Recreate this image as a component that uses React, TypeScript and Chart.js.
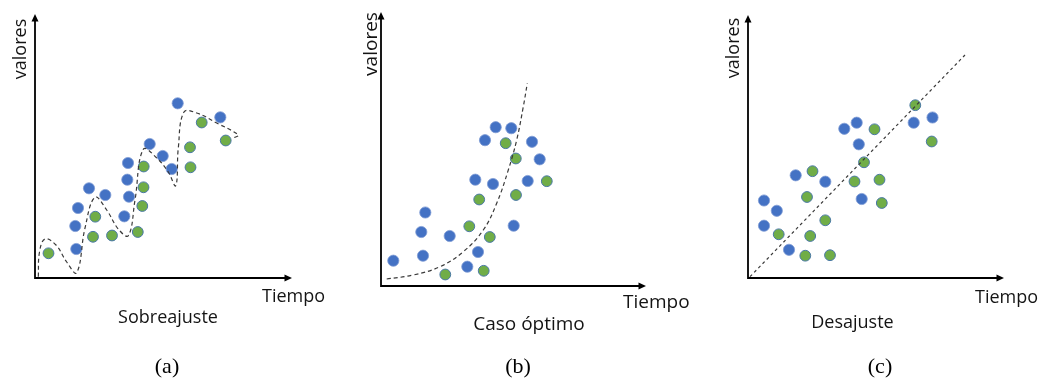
import React, { useEffect, useRef } from "react";
import { Chart, registerables } from "chart.js";

Chart.register(...registerables);

// ---------- DATA (units = distance from the axes' origin) ----------
// (a) Sobreajuste
const overfitBlue: [number, number][] = [
  [142.7, 174.7], [185.3, 160.7], [114.7, 134], [127.7, 122], [136.7, 109],
  [93, 115], [92.3, 98.3], [94, 81.3], [89.3, 61.7], [54, 89.7],
  [70.3, 83], [43, 70], [40.3, 52], [41.3, 29],
];
const overfitGreen: [number, number][] = [
  [166.7, 155.5], [190.7, 137.5], [155, 130.7], [155.5, 110.7], [108.7, 111.5],
  [108.5, 90.7], [107.3, 72], [102.8, 46], [60.3, 61.3], [58, 41.2],
  [77, 42.5], [13.5, 24.7],
];
const overfitCurve: [number, number][] = [
  [3.3, 1.3], [4.5, 26], [10, 39], [21, 33], [31.7, 16], [41.7, 5.3],
  [50, 50], [60, 80.7], [71.7, 68], [83.3, 49], [93.3, 42.3],
  [100, 78], [108.3, 128.7], [121.7, 120], [133.3, 106], [140.7, 92.3],
  [143.3, 130], [149, 166], [161.7, 165], [181.7, 155], [203.3, 143], [199, 140.3],
];

// (b) Caso óptimo
const optimalBlue: [number, number][] = [
  [12.3, 25.3], [42, 30.3], [40.3, 54], [44.3, 73.5], [68.7, 50],
  [86.3, 19.3], [97, 34], [94.3, 106.3], [112, 102], [104, 145.8],
  [114.7, 158.8], [130.3, 157.8], [151, 144.2], [158.7, 126.7], [146.7, 105], [132.7, 60.3],
];
const optimalGreen: [number, number][] = [
  [64.3, 11.5], [102.7, 15.2], [88.3, 59.7], [108.8, 49], [98.2, 86.5],
  [135, 91], [134.8, 127.5], [124.7, 142.8], [165.8, 104.8],
];
const optimalCurve: [number, number][] = [
  [5.7, 7], [32.3, 11], [59, 19.3], [82.3, 34.3], [102.3, 56],
  [115.7, 82.7], [127.3, 116], [135.7, 146], [142.3, 179.3], [146.3, 202.7],
];

// (c) Desajuste
const underfitBlue: [number, number][] = [
  [16, 77.5], [28.8, 67.2], [16, 52.3], [41, 28.2], [47.7, 102.7],
  [77.3, 96.3], [96.3, 149.2], [108.7, 155.3], [110.8, 133.7], [113.7, 79],
  [165.7, 155.3], [184.5, 160.5],
];
const underfitGreen: [number, number][] = [
  [30.7, 43.7], [57.3, 22.3], [82, 22.8], [62.2, 42], [77.3, 57.7],
  [59, 81], [64.5, 106.8], [106.5, 96.5], [116, 115.7], [131.5, 98.3],
  [133.8, 75], [126.5, 148.7], [167.3, 172.8], [183.7, 136.5],
];
const underfitLine: [number, number][] = [[2, 1.3], [217, 223]];

// ---------- LAYOUT & STYLE ----------
const W = 1040;
const H = 383;
const SANS = '"Open Sans", "Liberation Sans", sans-serif';
const SERIF = '"Liberation Serif", "DejaVu Serif", serif';
const BLUE = "#4472C4";
const BLUE_EDGE = "#7E9BD4";
const GREEN = "#70AD47";
const GREEN_EDGE = "#4A78A6";
const TEXT = "#141414";

type Panel = {
  left: number; width: number;
  ox: number; oy: number; top: number; tip: number;
  blue: [number, number][]; green: [number, number][]; curve: [number, number][];
  dash: number[]; tension: number;
  fontSize: number;
  valores: { x: number; y: number };
  tiempo: { x: number; y: number };
  caption: { text: string; x: number; y: number };
  tag: { text: string; x: number; y: number };
};

const panels: Panel[] = [
  {
    left: 0, width: 347, ox: 35, oy: 278, top: 14, tip: 292,
    blue: overfitBlue, green: overfitGreen, curve: overfitCurve, dash: [4, 3], tension: 0.4,
    fontSize: 18,
    valores: { x: 25.5, y: 49 }, tiempo: { x: 262, y: 302 },
    caption: { text: "Sobreajuste", x: 168, y: 323 }, tag: { text: "(a)", x: 167, y: 373 },
  },
  {
    left: 347, width: 353, ox: 381, oy: 286, top: 12, tip: 646,
    blue: optimalBlue, green: optimalGreen, curve: optimalCurve, dash: [4, 3], tension: 0.4,
    fontSize: 19,
    valores: { x: 377, y: 44 }, tiempo: { x: 623, y: 308 },
    caption: { text: "Caso óptimo", x: 529, y: 330 }, tag: { text: "(b)", x: 518, y: 373 },
  },
  {
    left: 700, width: 340, ox: 748, oy: 278, top: 15, tip: 1004,
    blue: underfitBlue, green: underfitGreen, curve: underfitLine, dash: [3, 3], tension: 0,
    fontSize: 18,
    valores: { x: 738.5, y: 48 }, tiempo: { x: 975, y: 303 },
    caption: { text: "Desajuste", x: 852.5, y: 328 }, tag: { text: "(c)", x: 880, y: 373 },
  },
];

const toPts = (arr: [number, number][]) => arr.map(([x, y]) => ({ x, y }));

function PanelChart({ p }: { p: Panel }) {
  const ref = useRef<HTMLCanvasElement | null>(null);
  useEffect(() => {
    const canvas = ref.current;
    if (!canvas) return;
    const xMax = p.tip - p.ox;
    const yMax = p.oy - p.top;
    const decor = {
      id: "decor",
      afterDraw(chart: any) {
        const ctx = chart.ctx as CanvasRenderingContext2D;
        const sx = chart.scales.x;
        const sy = chart.scales.y;
        const x0 = sx.getPixelForValue(0);
        const y0 = sy.getPixelForValue(0);
        const x1 = sx.getPixelForValue(xMax);
        const y1 = sy.getPixelForValue(yMax);
        ctx.save();
        ctx.strokeStyle = "#000";
        ctx.fillStyle = "#000";
        ctx.lineWidth = 1.8;
        ctx.lineCap = "butt";
        ctx.beginPath();
        ctx.moveTo(x0, y1 + 5);
        ctx.lineTo(x0, y0);
        ctx.lineTo(x1 - 5, y0);
        ctx.stroke();
        // arrow heads
        ctx.beginPath();
        ctx.moveTo(x0, y1);
        ctx.lineTo(x0 - 3.5, y1 + 7.5);
        ctx.lineTo(x0 + 3.5, y1 + 7.5);
        ctx.closePath();
        ctx.fill();
        ctx.beginPath();
        ctx.moveTo(x1, y0);
        ctx.lineTo(x1 - 7.5, y0 - 3.5);
        ctx.lineTo(x1 - 7.5, y0 + 3.5);
        ctx.closePath();
        ctx.fill();
        // texts
        const L = p.left;
        ctx.fillStyle = TEXT;
        ctx.font = `${p.fontSize}px ${SANS}`;
        ctx.textBaseline = "alphabetic";
        ctx.save();
        ctx.translate(p.valores.x - L, p.valores.y);
        ctx.rotate(-Math.PI / 2);
        ctx.textAlign = "center";
        ctx.fillText("valores", 0, 0);
        ctx.restore();
        ctx.textAlign = "left";
        ctx.fillText("Tiempo", p.tiempo.x - L, p.tiempo.y);
        ctx.textAlign = "center";
        ctx.fillText(p.caption.text, p.caption.x - L, p.caption.y);
        ctx.font = `22px ${SERIF}`;
        ctx.fillStyle = "#000";
        ctx.fillText(p.tag.text, p.tag.x - L, p.tag.y);
        ctx.restore();
      },
    };
    const chart = new Chart(canvas, {
      type: "scatter",
      data: {
        datasets: [
          {
            type: "line",
            data: toPts(p.curve),
            borderColor: "#3a3a3a",
            borderWidth: 1.2,
            borderDash: p.dash,
            pointRadius: 0,
            tension: p.tension,
            fill: false,
            clip: false,
          } as any,
          {
            data: toPts(p.blue),
            backgroundColor: BLUE,
            borderColor: BLUE_EDGE,
            borderWidth: 0.8,
            pointRadius: 5.6,
            clip: false,
          } as any,
          {
            data: toPts(p.green),
            backgroundColor: GREEN,
            borderColor: GREEN_EDGE,
            borderWidth: 1,
            pointRadius: 5.4,
            clip: false,
          } as any,
        ],
      },
      options: {
        animation: false,
        responsive: false,
        devicePixelRatio: 1,
        layout: {
          padding: {
            left: p.ox - p.left,
            right: p.left + p.width - p.tip,
            top: p.top,
            bottom: H - p.oy,
          },
        },
        scales: {
          x: { type: "linear", display: false, min: 0, max: xMax },
          y: { type: "linear", display: false, min: 0, max: yMax },
        },
        plugins: { legend: { display: false }, tooltip: { enabled: false } },
        events: [],
      },
      plugins: [decor],
    });
    return () => chart.destroy();
  }, [p]);
  return (
    <canvas
      ref={ref}
      width={p.width}
      height={H}
      style={{ position: "absolute", left: p.left, top: 0, width: p.width, height: H }}
    />
  );
}

export default function App() {
  useEffect(() => {
    document.body.style.margin = "0";
    document.body.style.background = "#fff";
  }, []);
  return (
    <div style={{ position: "relative", width: W, height: H, background: "#fff", overflow: "hidden" }}>
      {panels.map((p, i) => (
        <PanelChart key={i} p={p} />
      ))}
    </div>
  );
}
